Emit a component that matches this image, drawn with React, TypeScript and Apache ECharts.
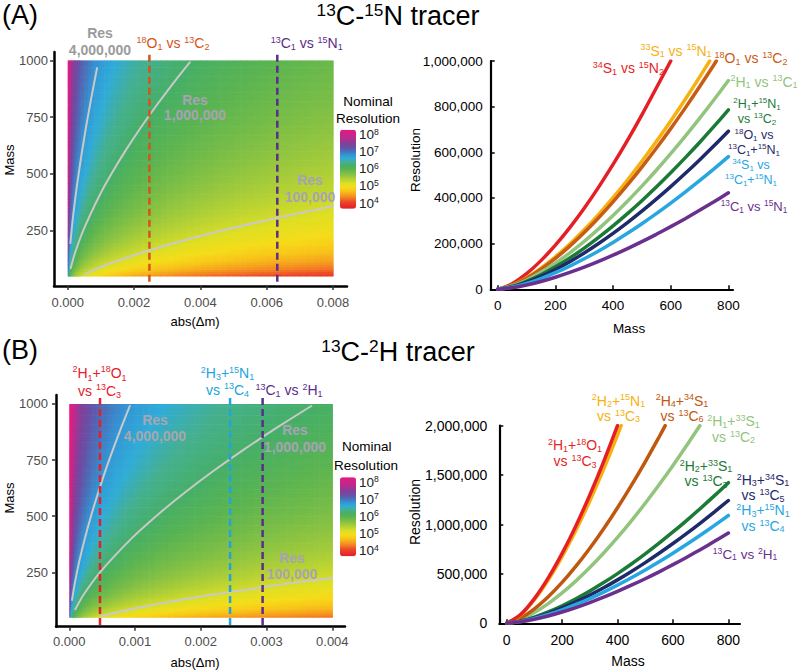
import React, { useEffect, useRef } from 'react';
import * as echarts from 'echarts';

const FONT = '"Liberation Sans", Arial, Helvetica, sans-serif';

// ---------- nominal-resolution field behind the two heatmaps ----------
const FIELD_COEF = 0.187; // nominal resolution = FIELD_COEF * mass^1.5 / |dm|
const LOG_MIN = 3.67;
const LOG_MAX = 8.29;
const FIELD_MASS_MIN = 50;
const FIELD_MASS_MAX = 1000;
const FIELD_MASS_STEP = 10;
const DM_SEGMENTS_A = [[0, 0.0004, 20], [0.0004, 0.002, 16], [0.002, 0.008, 30]];
const DM_SEGMENTS_B = [[0, 0.0002, 20], [0.0002, 0.001, 16], [0.001, 0.004, 30]];
const COLOR_SCALE = [
  '#e41f26', '#e8302a', '#ec4b28', '#f37c24', '#f6a51c', '#f8c618', '#f5dc19', '#dfdf22',
  '#bcd431', '#9ac83d', '#78bd47', '#5bb451', '#46af66', '#45b08f', '#30acd8', '#3395d5',
  '#4a70b8', '#6651a8', '#7f4299', '#a03492', '#c1288c', '#d3208a', '#e6197f',
];
const COLORBAR_TICKS = [8, 7, 6, 5, 4];

// ---------- resolution contours [abs(dm), mass] ----------
const contourA_4M = [[0.0000803, 195], [0.000153, 300], [0.000236, 400], [0.00033, 500], [0.000434, 600], [0.000546, 700], [0.000668, 800], [0.000797, 900], [0.000886, 966]];
const contourA_1M = [[0.0000909, 84], [0.000217, 150], [0.000467, 250], [0.000944, 400], [0.001319, 500], [0.001734, 600], [0.002185, 700], [0.00267, 800], [0.003186, 900], [0.003681, 991]];
const contourA_100k = [[0.000535, 59], [0.000844, 80], [0.00118, 100], [0.002168, 150], [0.003337, 200], [0.004665, 250], [0.006131, 300], [0.008, 358]];
const contourB_4M = [[0.0000422, 127], [0.0000834, 200], [0.000153, 300], [0.000236, 400], [0.00033, 500], [0.000434, 600], [0.000546, 700], [0.000668, 800], [0.000797, 900], [0.00092, 991]];
const contourB_1M = [[0.0000925, 85], [0.000217, 150], [0.000467, 250], [0.000944, 400], [0.001319, 500], [0.001734, 600], [0.002185, 700], [0.00267, 800], [0.003186, 900], [0.003681, 991]];
const contourB_100k = [[0.000481, 55], [0.000844, 80], [0.00118, 100], [0.002168, 150], [0.003337, 200], [0.004, 225]];

// ---------- tracer mass differences (dashed lines) ----------
const tracerDmA = [0.002464, 0.00632];
const tracerColorA = ['#d5531d', '#5a2d8c'];
const tracerDmB = [0.000467, 0.002445, 0.00294];
const tracerColorB = ['#e5202b', '#22a3dc', '#5a2d8c'];

// ---------- resolution vs mass curves ----------
const MASS_PTS = [0, 50, 100, 150, 200, 250, 300, 350, 400, 450, 500, 550, 600, 650, 700, 750, 800];

const resA_34S_15N2 = [0, 24170, 68370, 125600, 193300, 270300, 355200, 447700, 546900, 652600, 764300, 881900, 1000000];
const resA_33S_15N = [0, 17740, 50170, 92180, 141900, 198300, 260700, 328500, 401400, 478900, 560900, 647100, 737300, 831400, 929200];
const endA_33S_15N = [735, 1000000];
const resA_18O_13C2 = [0, 16930, 47890, 87990, 135400, 189300, 248800, 313600, 383100, 457100, 535400, 617700, 703800, 793600, 886900, 983600];
const endA_18O_13C2 = [758, 1000000];
const resA_2H_13C = [0, 14290, 40410, 74250, 114300, 159800, 210000, 264600, 323300, 385800, 451800, 521300, 593900, 669700, 748400, 830000, 914400];
const resA_2H15N_13C2 = [0, 12280, 34730, 63800, 98200, 137300, 180400, 227400, 277800, 331500, 388200, 447900, 510400, 575500, 643100, 713300, 785800];
const resA_18O_13C15N = [0, 10820, 30600, 56220, 86540, 121000, 159000, 200400, 244800, 292100, 342100, 394700, 449700, 507100, 566800, 628600, 692400];
const resA_34S_13C15N = [0, 9081, 25690, 47190, 72640, 101500, 133500, 168200, 205500, 245200, 287200, 331300, 377500, 425700, 475700, 527600, 581200];
const resA_13C_15N = [0, 6601, 18670, 34300, 52800, 73810, 97010, 122300, 149400, 178200, 208700, 240800, 274400, 309400, 345800, 383500, 422500];

const resB_2H18O_13C3 = [0, 88400, 250000, 459300, 707100, 988200, 1299000, 1637000, 2000000];
const resB_2H215N_13C3 = [0, 84260, 238300, 437800, 674000, 942000, 1238000, 1560000, 1906000];
const endB_2H215N_13C3 = [413, 2000000];
const resB_2H434S_13C6 = [0, 51690, 146200, 268600, 413500, 577900, 759600, 957300, 1169600, 1395600, 1634500, 1885900];
const endB_2H434S_13C6 = [572, 2000000];
const resB_2H33S_13C2 = [0, 38430, 108700, 199700, 307400, 429700, 564800, 711800, 869600, 1037600, 1215300, 1402100, 1597600, 1801400];
const endB_2H33S_13C2 = [697, 2000000];
const resB_2H233S_13C3 = [0, 22240, 62900, 115560, 177900, 248700, 326800, 411900, 503200, 600400, 703200, 811300, 924400, 1042400, 1164900, 1291900, 1423200];
const resB_2H334S_13C5 = [0, 19420, 54930, 100900, 155400, 217100, 285400, 359700, 439500, 524400, 614200, 708600, 807300, 910300, 1017300, 1128300, 1242900];
const resB_2H315N_13C4 = [0, 17060, 48240, 88620, 136400, 190700, 250700, 315900, 385900, 460500, 539300, 622300, 709000, 799400, 893400, 990900, 1091500];
const resB_13C_2H = [0, 14280, 40380, 74180, 114200, 159600, 209800, 264400, 323000, 385500, 451400, 520900, 593500, 669200, 747800, 829400, 913700];

const C_RED = '#e41f26';
const C_YEL = '#f7b10f';
const C_BRN = '#c85c14';
const C_LGR = '#92c47d';
const C_DGR = '#1b7a35';
const C_NAV = '#1f2a6b';
const C_SKY = '#27a6df';
const C_PUR = '#6b2f8e';

const curvesA = [
  { v: resA_34S_15N2, end: null, c: C_RED },
  { v: resA_33S_15N, end: endA_33S_15N, c: C_YEL },
  { v: resA_18O_13C2, end: endA_18O_13C2, c: C_BRN },
  { v: resA_2H_13C, end: null, c: C_LGR },
  { v: resA_2H15N_13C2, end: null, c: C_DGR },
  { v: resA_18O_13C15N, end: null, c: C_NAV },
  { v: resA_34S_13C15N, end: null, c: C_SKY },
  { v: resA_13C_15N, end: null, c: C_PUR },
];
const curvesB = [
  { v: resB_2H33S_13C2, end: endB_2H33S_13C2, c: C_LGR },
  { v: resB_2H434S_13C6, end: endB_2H434S_13C6, c: '#c0570f' },
  { v: resB_2H215N_13C3, end: endB_2H215N_13C3, c: C_YEL },
  { v: resB_2H18O_13C3, end: null, c: C_RED },
  { v: resB_2H233S_13C3, end: null, c: C_DGR },
  { v: resB_2H334S_13C5, end: null, c: C_NAV },
  { v: resB_2H315N_13C4, end: null, c: C_SKY },
  { v: resB_13C_2H, end: null, c: C_PUR },
];

// ---------- helpers ----------
function edgesFrom(segs: number[][]): number[] {
  const e: number[] = [];
  segs.forEach(([a, b, n]) => {
    for (let i = 0; i < n; i++) e.push(a + ((b - a) * i) / n);
  });
  e.push(segs[segs.length - 1][1]);
  return e;
}

function fieldCells(segs: number[][]) {
  const dmE = edgesFrom(segs);
  const cells: number[][] = [];
  for (let m0 = FIELD_MASS_MIN; m0 < FIELD_MASS_MAX; m0 += FIELD_MASS_STEP) {
    const m1 = m0 + FIELD_MASS_STEP;
    const mc = (m0 + m1) / 2;
    for (let i = 0; i < dmE.length - 1; i++) {
      const dc = (dmE[i] + dmE[i + 1]) / 2;
      let v = Math.log10((FIELD_COEF * Math.pow(mc, 1.5)) / dc);
      v = Math.max(LOG_MIN, Math.min(LOG_MAX, v));
      cells.push([dmE[i], dmE[i + 1], m0, m1, v]);
    }
  }
  return cells;
}

function toRich(s: string): string {
  const out: string[] = [];
  const re = /\^(\d+)|_(\d+)|([^\^_]+)/g;
  let m: RegExpExecArray | null;
  while ((m = re.exec(s))) {
    if (m[1]) out.push(`{u|${m[1]}}`);
    else if (m[2]) out.push(`{d|${m[2]}}`);
    else out.push(m[3].split('\n').map((p) => (p ? `{m|${p}}` : '')).join('\n'));
  }
  return out.join('');
}

function richStyles(F: number, L: number, weight: string) {
  const fu = Math.round(F * 0.64 * 10) / 10;
  return {
    m: { fontSize: F, lineHeight: L, fontFamily: FONT, fontWeight: weight, verticalAlign: 'middle' },
    u: { fontSize: fu, lineHeight: Math.max(2, L - 0.4 * F), fontFamily: FONT, fontWeight: weight, verticalAlign: 'top' },
    d: { fontSize: fu, lineHeight: Math.max(2, L - 0.5 * F), fontFamily: FONT, fontWeight: weight, verticalAlign: 'bottom' },
  };
}

function T(text: string, x: number, y: number, o: any = {}) {
  const F = o.size ?? 14;
  const L = o.lh ?? F + 2;
  const weight = o.weight ?? 'normal';
  const align = o.align ?? 'center';
  return {
    type: 'text', x, y, rotation: o.rot ?? 0, z: 100, silent: true,
    style: {
      text: toRich(text), fill: o.color ?? '#000', fontSize: F, fontFamily: FONT, fontWeight: weight,
      align, textAlign: align, verticalAlign: 'middle', textVerticalAlign: 'middle',
      rich: richStyles(F, L, weight),
    },
  };
}

function heatSeries(axis: number, cells: number[][]) {
  return {
    type: 'custom', xAxisIndex: axis, yAxisIndex: axis, silent: true, progressive: 0,
    dimensions: ['x0', 'x1', 'y0', 'y1', 'v'],
    encode: { x: [0, 1], y: [2, 3] },
    data: cells,
    renderItem: (params: any, api: any) => {
      const p0 = api.coord([api.value(0), api.value(3)]);
      const p1 = api.coord([api.value(1), api.value(2)]);
      return {
        type: 'rect',
        shape: { x: p0[0], y: p0[1], width: p1[0] - p0[0] + 0.6, height: p1[1] - p0[1] + 0.6 },
        style: { fill: api.visual('color') },
      };
    },
    z: 1,
  };
}

function lineSeries(axis: number, data: number[][], color: string, width: number, extra: any = {}) {
  return {
    type: 'line', xAxisIndex: axis, yAxisIndex: axis, data, showSymbol: false, symbol: 'none',
    silent: true, smooth: 0.3, lineStyle: { color, width, cap: 'round' }, z: 3, ...extra,
  };
}

function curveData(v: number[], end: number[] | null) {
  const d = v.map((y, i) => [MASS_PTS[i], y]);
  if (end) d.push(end);
  return d;
}

const fmtInt = (v: number) => Math.round(v).toLocaleString('en-US');

function heatAxes(grid: number, xr: number[], yr: number[], xt: number[], xm: number, ym: number) {
  const axisLine = { show: true, onZero: false, lineStyle: { color: '#000', width: 2.5 } };
  const tick = (vals: number[]) => ({ show: true, customValues: vals, length: 4, lineStyle: { color: '#333', width: 1.5 } });
  const yt = [250, 500, 750, 1000];
  return {
    x: {
      type: 'value', gridIndex: grid, min: xr[0], max: xr[1], axisLine, axisTick: tick(xt), splitLine: { show: false },
      axisLabel: { customValues: xt, formatter: (v: number) => v.toFixed(3), color: '#4d4d4d', fontSize: 13, margin: xm, fontFamily: FONT },
    },
    y: {
      type: 'value', gridIndex: grid, min: yr[0], max: yr[1], axisLine, axisTick: tick(yt), splitLine: { show: false },
      axisLabel: { customValues: yt, formatter: (v: number) => String(v), color: '#4d4d4d', fontSize: 13, margin: ym, fontFamily: FONT },
    },
  };
}

function lineAxes(grid: number, xr: number[], ymax: number, yt: number[], fs: number, xm: number, ym: number) {
  const axisLine = { show: true, onZero: false, lineStyle: { color: '#000', width: 2.2 } };
  const xt = [0, 200, 400, 600, 800];
  return {
    x: {
      type: 'value', gridIndex: grid, min: xr[0], max: xr[1], axisLine, splitLine: { show: false },
      axisTick: { show: true, customValues: xt, inside: true, length: 4, lineStyle: { color: '#000', width: 1.5 } },
      axisLabel: { customValues: xt, formatter: fmtInt, color: '#000', fontSize: fs, margin: xm, fontFamily: FONT },
    },
    y: {
      type: 'value', gridIndex: grid, min: 0, max: ymax, axisLine, splitLine: { show: false },
      axisTick: { show: true, customValues: yt, inside: true, length: 4, lineStyle: { color: '#000', width: 1.5 } },
      axisLabel: { customValues: yt, formatter: fmtInt, color: '#000', fontSize: fs, margin: ym, fontFamily: FONT },
    },
  };
}

function colorbarLabels(x: number, barTop: number, barH: number) {
  return COLORBAR_TICKS.map((k) =>
    T(`10^${k}`, x, barTop + ((LOG_MAX - k) / (LOG_MAX - LOG_MIN)) * barH, { size: 13.5, align: 'left', color: '#222', lh: 15 })
  );
}

export default function App() {
  const ref = useRef<HTMLDivElement>(null);
  useEffect(() => {
    if (!ref.current) return;
    const chart = echarts.init(ref.current, undefined, { renderer: 'svg' });

    const hA = heatAxes(0, [-0.000413, 0.008422], [5.7, 1037], [0, 0.002, 0.004, 0.006, 0.008], 10, 6);
    const lA = lineAxes(1, [-24.3, 816], 1000000, [0, 200000, 400000, 600000, 800000, 1000000], 13.5, 9, 8);
    const hB = heatAxes(2, [-0.000202, 0.004193], [7.6, 1040], [0, 0.001, 0.002, 0.003, 0.004], 8, 8);
    const lB = lineAxes(3, [-26.7, 842], 2000000, [0, 500000, 1000000, 1500000, 2000000], 14, 10, 12);

    const series: any[] = [];
    series.push(heatSeries(0, fieldCells(DM_SEGMENTS_A)));
    [contourA_4M, contourA_1M, contourA_100k].forEach((c) => series.push(lineSeries(0, c, '#c9c9c9', 2)));
    tracerDmA.forEach((dm, i) =>
      series.push(lineSeries(0, [[dm, 1025], [dm, 5.7]], tracerColorA[i], 2.5, { smooth: false, z: 4, lineStyle: { color: tracerColorA[i], width: 2.5, type: [7, 4] } }))
    );
    curvesA.forEach((c) => series.push(lineSeries(1, curveData(c.v, c.end), c.c, 3.5)));
    const heatBIndex = series.length;
    series.push(heatSeries(2, fieldCells(DM_SEGMENTS_B)));
    [contourB_4M, contourB_1M, contourB_100k].forEach((c) => series.push(lineSeries(2, c, '#c9c9c9', 2)));
    tracerDmB.forEach((dm, i) =>
      series.push(lineSeries(2, [[dm, 1027], [dm, 7.6]], tracerColorB[i], 2.5, { smooth: false, z: 4, lineStyle: { color: tracerColorB[i], width: 2.5, type: [7, 4] } }))
    );
    curvesB.forEach((c) => series.push(lineSeries(3, curveData(c.v, c.end), c.c, 3.5)));

    const vm = (seriesIndex: number, top: number) => ({
      type: 'continuous', seriesIndex, dimension: 4, min: LOG_MIN, max: LOG_MAX, calculable: false,
      hoverLink: false, realtime: false, inRange: { color: COLOR_SCALE }, left: 340, top,
      itemWidth: 16, itemHeight: 79, padding: 0, showLabel: false, borderWidth: 0,
    });

    const RES_GRAY = '#a7a3b5';
    const graphics: any[] = [
      // titles
      T('(A)', 2, 15, { size: 27, align: 'left', lh: 30 }),
      T('^13C-^15N tracer', 398, 16, { size: 27, lh: 30 }),
      T('(B)', 2, 350, { size: 27, align: 'left', lh: 30 }),
      T('^13C-^2H tracer', 398, 352, { size: 27, lh: 30 }),
      // heatmap A
      T('Res\n4,000,000', 100, 41.7, { size: 14, weight: 'bold', color: '#9b9b9b', lh: 16.7 }),
      T('^18O_1 vs ^13C_2', 173, 43.3, { size: 14, color: tracerColorA[0] }),
      T('^13C_1 vs ^15N_1', 306.7, 43.3, { size: 14, color: tracerColorA[1] }),
      T('Res\n1,000,000', 195, 107.5, { size: 14, weight: 'bold', color: RES_GRAY, lh: 15.5 }),
      T('Res\n100,000', 310, 188.5, { size: 14, weight: 'bold', color: RES_GRAY, lh: 16.5 }),
      T('Nominal', 368, 101.3, { size: 13.5 }),
      T('Resolution', 368, 118.7, { size: 13.5 }),
      ...colorbarLabels(359, 129.7, 79),
      T('Mass', 9, 160, { size: 13, rot: Math.PI / 2 }),
      T('abs(Δm)', 195, 321.7, { size: 13 }),
      // line chart A
      T('Resolution', 415, 160, { size: 13.5, rot: Math.PI / 2 }),
      T('Mass', 629, 328, { size: 13.5 }),
      T('^34S_1 vs ^15N_2', 628.3, 68, { size: 14, color: C_RED }),
      T('^33S_1 vs ^15N_1', 676, 50.5, { size: 14, color: C_YEL }),
      T('^18O_1 vs ^13C_2', 751, 58.3, { size: 14, color: C_BRN }),
      T('^2H_1 vs ^13C_1', 764, 81.7, { size: 14, color: C_LGR }),
      T('^2H_1+^15N_1\nvs ^13C_2', 757, 111.5, { size: 12.5, color: C_DGR, lh: 15 }),
      T('^18O_1 vs\n^13C_1+^15N_1', 754, 142, { size: 12.5, color: C_NAV, lh: 15 }),
      T('^34S_1 vs\n^13C_1+^15N_1', 751, 172, { size: 12.5, color: C_SKY, lh: 15 }),
      T('^13C_1 vs ^15N_1', 754, 206, { size: 13, color: C_PUR }),
      // heatmap B
      T('^2H_1+^18O_1\nvs ^13C_3', 99.5, 382, { size: 14, color: tracerColorB[0], lh: 17.4 }),
      T('^2H_3+^15N_1\nvs ^13C_4', 227.5, 381.7, { size: 14, color: tracerColorB[1], lh: 16.7 }),
      T('^13C_1 vs ^2H_1', 289, 390, { size: 14, color: tracerColorB[2] }),
      T('Res\n4,000,000', 155, 428, { size: 14, weight: 'bold', color: '#a8a6ac', lh: 16 }),
      T('Res\n1,000,000', 295, 438.5, { size: 14, weight: 'bold', color: RES_GRAY, lh: 17 }),
      T('Res\n100,000', 292, 566, { size: 14, weight: 'bold', color: RES_GRAY, lh: 16 }),
      T('Nominal', 366.7, 446.7, { size: 13.5 }),
      T('Resolution', 366, 465, { size: 13.5 }),
      ...colorbarLabels(359, 477.3, 79),
      T('Mass', 9, 498, { size: 13, rot: Math.PI / 2 }),
      T('abs(Δm)', 195, 662, { size: 13 }),
      // line chart B
      T('Resolution', 415, 512, { size: 14, rot: Math.PI / 2 }),
      T('Mass', 628, 661, { size: 14 }),
      T('^2H_2+^15N_1\nvs ^13C_3', 618.5, 408.3, { size: 14, color: C_YEL, lh: 15.5 }),
      T('^2H_4+^34S_1\nvs ^13C_6', 682, 408.3, { size: 14, color: '#c0570f', lh: 15.5 }),
      T('^2H_1+^33S_1\nvs ^13C_2', 733.5, 429.2, { size: 14, color: C_LGR, lh: 15.5 }),
      T('^2H_1+^18O_1\nvs ^13C_3', 575, 453, { size: 14, color: C_RED, lh: 16 }),
      T('^2H_2+^33S_1\nvs ^13C_3', 706, 473.5, { size: 14, color: C_DGR, lh: 15.5 }),
      T('^2H_3+^34S_1\nvs ^13C_5', 763, 487.5, { size: 14, color: C_NAV, lh: 15.5 }),
      T('^2H_3+^15N_1\nvs ^13C_4', 763, 518, { size: 14, color: C_SKY, lh: 15.5 }),
      T('^13C_1 vs ^2H_1', 745, 554, { size: 13.5, color: C_PUR }),
    ];

    chart.setOption({
      animation: false,
      textStyle: { fontFamily: FONT },
      grid: [
        { left: 54, top: 52, width: 293, height: 234, outerBoundsMode: 'none' },
        { left: 490.7, top: 61, width: 242.3, height: 228.3, outerBoundsMode: 'none' },
        { left: 56, top: 395, width: 289, height: 231.7, outerBoundsMode: 'none' },
        { left: 499.3, top: 425.7, width: 240.7, height: 197.6, outerBoundsMode: 'none' },
      ],
      xAxis: [hA.x, lA.x, hB.x, lB.x],
      yAxis: [hA.y, lA.y, hB.y, lB.y],
      visualMap: [vm(0, 129.7), vm(heatBIndex, 477.3)],
      series,
      graphic: { elements: graphics },
    });

    return () => chart.dispose();
  }, []);

  return <div ref={ref} style={{ position: 'fixed', left: 0, top: 0, width: 797, height: 671, background: '#fff' }} />;
}
